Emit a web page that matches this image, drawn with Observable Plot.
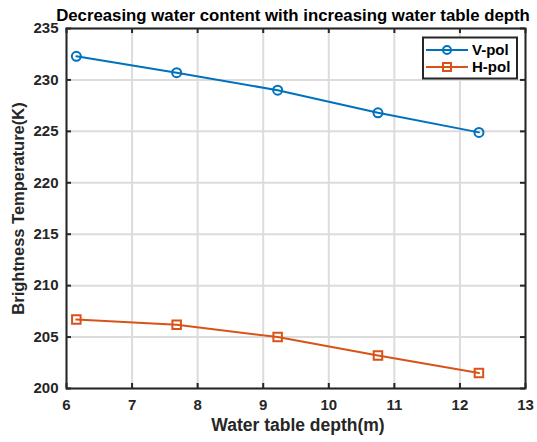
<!DOCTYPE html>
<html><head><meta charset="utf-8">
<script src="https://cdn.jsdelivr.net/npm/d3@7"></script>
<script src="https://cdn.jsdelivr.net/npm/@observablehq/plot@0.6"></script>
<style>body{margin:0;background:#fff;} svg{display:block;}</style>
</head><body><div id="chart"></div>
<script>
const depth = [6.15, 7.68, 9.22, 10.75, 12.29];
const vpol = [232.3, 230.7, 229.0, 226.8, 224.9];
const hpol = [206.7, 206.2, 205.0, 203.2, 201.5];
const xTicks = [6, 7, 8, 9, 10, 11, 12, 13];
const yTicks = [200, 205, 210, 215, 220, 225, 230, 235];
const seriesNames = ["V-pol", "H-pol"];
const colors = ["#0072BD", "#D95319"];
const title = "Decreasing water content with increasing water table depth";
const xLabel = "Water table depth(m)";
const yLabel = "Brightness Temperature(K)";

const vData = depth.map((d, i) => ({x: d, y: vpol[i]}));
const hData = depth.map((d, i) => ({x: d, y: hpol[i]}));
const axisColor = "#262626";
const font = "Arial, 'Liberation Sans', sans-serif";
const W = 537, H = 442, mL = 66, mR = 12, mT = 28, mB = 54;
const fw = W - mL - mR, fh = H - mT - mB, tk = 5;

const plot = Plot.plot({
  width: W, height: H,
  marginLeft: mL, marginRight: mR, marginTop: mT, marginBottom: mB,
  style: {fontFamily: font, fontWeight: "bold", fontSize: "15px", color: axisColor, background: "#fff"},
  x: {domain: [6, 13], ticks: xTicks},
  y: {domain: [200, 235], ticks: yTicks},
  marks: [
    Plot.gridX(xTicks, {stroke: "#dcdcdc", strokeOpacity: 1, strokeWidth: 2}),
    Plot.gridY(yTicks, {stroke: "#dcdcdc", strokeOpacity: 1, strokeWidth: 2}),
    Plot.axisX(xTicks, {anchor: "bottom", tickSize: 0, tickPadding: 11, stroke: "none", label: null, fontSize: 15}),
    Plot.axisY(yTicks, {anchor: "left", tickSize: 0, tickPadding: 8, stroke: "none", label: null, fontSize: 15}),
    Plot.tickX(xTicks, {x: d => d, insetTop: fh - tk, stroke: axisColor, strokeWidth: 2}),
    Plot.tickX(xTicks, {x: d => d, insetBottom: fh - tk, stroke: axisColor, strokeWidth: 2}),
    Plot.tickY(yTicks, {y: d => d, insetRight: fw - tk, stroke: axisColor, strokeWidth: 2}),
    Plot.tickY(yTicks, {y: d => d, insetLeft: fw - tk, stroke: axisColor, strokeWidth: 2}),
    Plot.frame({stroke: axisColor, strokeWidth: 2}),
    Plot.line(vData, {x: "x", y: "y", stroke: colors[0], strokeWidth: 2}),
    Plot.dot(vData, {x: "x", y: "y", stroke: colors[0], fill: "none", r: 4.5, strokeWidth: 2}),
    Plot.line(hData, {x: "x", y: "y", stroke: colors[1], strokeWidth: 2}),
    Plot.dot(hData, {x: "x", y: "y", stroke: colors[1], fill: "none", symbol: "square", r: 4.8, strokeWidth: 2}),
    Plot.text([title], {frameAnchor: "top", lineAnchor: "bottom", dy: -8, dx: -3, fontSize: 16.8, fill: "#000"}),
    Plot.text([xLabel], {frameAnchor: "bottom", lineAnchor: "top", dy: 30, dx: 2, fontSize: 17.5, fill: axisColor}),
    Plot.text([yLabel], {frameAnchor: "left", textAnchor: "middle", rotate: -90, lineAnchor: "middle", dx: -48, fontSize: 16.5, fill: axisColor})
  ]
});
document.getElementById("chart").appendChild(plot);

const svg = d3.select(plot);
svg.selectAll("text").attr("font-weight", "bold").style("font-weight", "bold");

// legend
const lg = svg.append("g").attr("font-family", font).attr("font-weight", "bold").attr("font-size", 15).attr("text-anchor", "start");
lg.append("rect").attr("x", 423).attr("y", 37.5).attr("width", 94).attr("height", 41)
  .attr("fill", "#fff").attr("stroke", axisColor).attr("stroke-width", 2);
seriesNames.forEach((name, i) => {
  const yy = 50 + i * 17;
  lg.append("line").attr("x1", 426).attr("x2", 468).attr("y1", yy).attr("y2", yy).attr("stroke", colors[i]).attr("stroke-width", 2);
  if (i === 0) lg.append("circle").attr("cx", 447).attr("cy", yy).attr("r", 4).attr("fill", "none").attr("stroke", colors[i]).attr("stroke-width", 2);
  else lg.append("rect").attr("x", 443).attr("y", yy - 4).attr("width", 8).attr("height", 8).attr("fill", "none").attr("stroke", colors[i]).attr("stroke-width", 2);
  lg.append("text").attr("x", 472).attr("y", yy).attr("dy", "0.35em").attr("fill", "#000").text(name);
});
</script></body></html>
